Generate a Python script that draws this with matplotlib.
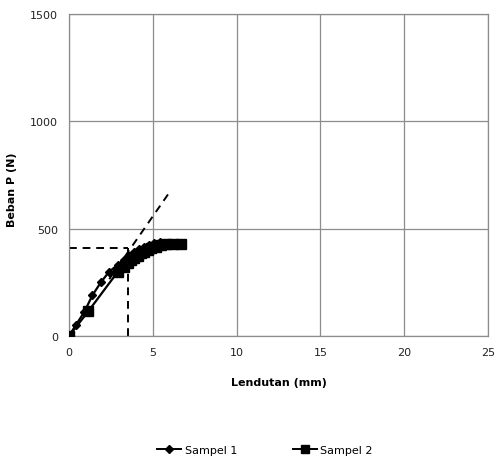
import matplotlib
matplotlib.use('Agg')
import matplotlib.pyplot as plt
from matplotlib.lines import Line2D

# Sampel 1 (diamonds)
s1_x = [0, 0.4, 0.9, 1.4, 1.9, 2.4, 2.9, 3.3, 3.6, 3.9, 4.2, 4.5, 4.8, 5.1, 5.4, 5.7]
s1_y = [0, 50, 110, 190, 250, 300, 330, 355, 375, 390, 405, 415, 425, 432, 436, 432]

# Sampel 2 (squares)
s2_x = [0, 1.15, 2.9, 3.3, 3.5, 3.7, 3.9, 4.1, 4.3, 4.5, 4.7, 4.9, 5.2, 5.5, 5.8, 6.2, 6.7]
s2_y = [0, 115, 298, 320, 340, 355, 365, 375, 385, 392, 400, 408, 415, 425, 430, 428, 428]

# construction lines
yield_load = 410
yield_defl = 3.5
tangent_x = [2.4, 6.0]
tangent_y = [265, 670]

fig = plt.figure(figsize=(4.98, 4.64), dpi=100)
ax = fig.add_axes([69 / 498, 1 - 337 / 464, 419 / 498, 322 / 464])

ax.plot(s1_x, s1_y, color='black', lw=1.6, marker='D', ms=4.5, zorder=3)
ax.plot(s2_x, s2_y, color='black', lw=1.6, marker='s', ms=6.5, zorder=3)

ax.plot([0, yield_defl], [yield_load, yield_load], color='black', lw=1.4, ls=(0, (4, 3)), zorder=2)
ax.plot([yield_defl, yield_defl], [0, yield_load], color='black', lw=1.4, ls=(0, (4, 3)), zorder=2)
ax.plot(tangent_x, tangent_y, color='black', lw=1.4, ls=(0, (4, 3)), zorder=2)

ax.set_xlim(0, 25)
ax.set_ylim(0, 1500)
ax.set_xticks([0, 5, 10, 15, 20, 25])
ax.set_yticks([0, 500, 1000, 1500])
ax.grid(True, color='#8c8c8c', lw=0.9)
ax.set_axisbelow(True)
for s in ax.spines.values():
    s.set_color('#8c8c8c')
    s.set_linewidth(0.9)
ax.tick_params(length=0, labelsize=8, colors='#222222', pad=8)

ax.set_xlabel('Lendutan (mm)', fontsize=8, fontweight='bold')
ax.xaxis.set_label_coords(0.5, -41 / 322)
ax.set_ylabel('Beban P (N)', fontsize=8, fontweight='bold')
ax.yaxis.set_label_coords(-52 / 419, 147 / 322)

handles = [Line2D([], [], color='black', lw=1.4, marker='D', ms=4),
           Line2D([], [], color='black', lw=1.4, marker='s', ms=6)]
fig.legend(handles, ['Sampel 1', 'Sampel 2'], loc='center', bbox_to_anchor=(265 / 498, 1 - 451 / 464),
           ncol=2, frameon=False, fontsize=8, columnspacing=5, handlelength=2.2, handletextpad=0.3)

fig.savefig('out.png', dpi=100)
